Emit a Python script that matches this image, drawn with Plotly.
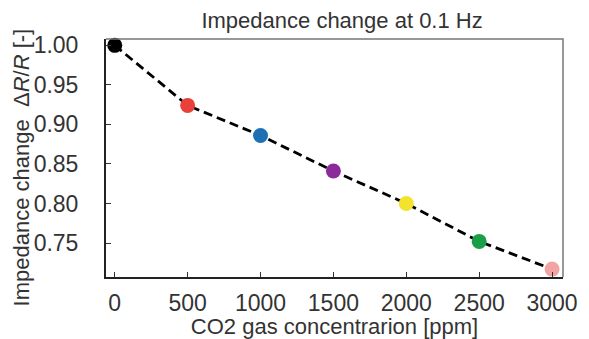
import plotly.graph_objects as go

concentration = [0, 500, 1000, 1500, 2000, 2500, 3000]
impedance_change = [1.00, 0.924, 0.886, 0.841, 0.800, 0.752, 0.717]
point_colors = ["#000000", "#e8413a", "#1f6fb5", "#8b2a9b", "#f3e32c", "#1a9e48", "#f2a3a3"]
x_ticks = [0, 500, 1000, 1500, 2000, 2500, 3000]
y_ticks = [0.75, 0.80, 0.85, 0.90, 0.95, 1.00]

FONT = "Liberation Sans, Arial, sans-serif"
TXT = "#333333"

fig = go.Figure()
fig.add_trace(go.Scatter(
    x=concentration, y=impedance_change, mode="lines",
    line=dict(color="black", width=2.8, dash="9px,5px"), showlegend=False, cliponaxis=False))
fig.add_trace(go.Scatter(
    x=concentration, y=impedance_change, mode="markers", cliponaxis=False,
    marker=dict(color=point_colors, size=15, line=dict(width=0)), showlegend=False))

fig.update_layout(
    width=581, height=331,
    margin=dict(l=98, r=26, t=31, b=62, autoexpand=False),
    paper_bgcolor="white", plot_bgcolor="white",
    font=dict(family=FONT, color=TXT),
    title=dict(text="Impedance change at 0.1 Hz", x=0.575, xanchor="center",
               y=0.964, yanchor="middle", yref="container", font=dict(size=22, color=TXT),
               automargin=False),
    xaxis=dict(range=[-60, 3075], tickvals=x_ticks, ticktext=[str(v) for v in x_ticks],
               ticks="inside", ticklen=5, tickcolor="#333", showgrid=False, zeroline=False,
               showline=True, linecolor="#222", linewidth=2, automargin=False,
               tickfont=dict(size=23, color=TXT), ticklabelstandoff=4,
               title=dict(text="CO2 gas concentrarion [ppm]", font=dict(size=22, color=TXT), standoff=12)),
    yaxis=dict(range=[0.707, 1.008], tickvals=y_ticks, ticktext=[f"{v:.2f}" for v in y_ticks],
               ticks="inside", ticklen=5, tickcolor="#333", showgrid=False, zeroline=False,
               showline=True, linecolor="#222", linewidth=2, automargin=False,
               tickfont=dict(size=23, color=TXT), ticklabelstandoff=21),
    annotations=[dict(text="Impedance change&nbsp; Δ<i>R</i>/<i>R</i> [-]", textangle=-90,
                      xref="paper", yref="paper", x=-0.184, y=0.46,
                      xanchor="center", yanchor="middle", showarrow=False,
                      font=dict(size=22, color=TXT))],
    shapes=[dict(type="path", xref="paper", yref="paper",
                 path="M 0 1 L 1 1 L 1 0", line=dict(color="#777", width=1.5))],
)

fig.write_html("out.html")
